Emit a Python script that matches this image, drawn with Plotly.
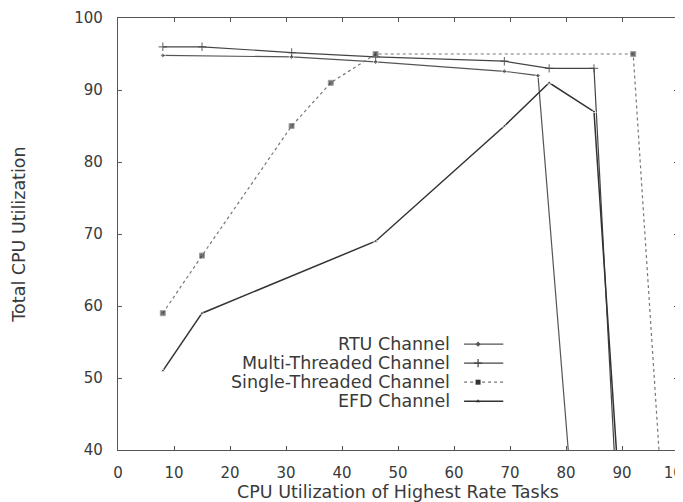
import plotly.graph_objects as go

# ---- data ----
rtu_x = [8, 31, 46, 69, 75, 80.4]
rtu_y = [94.8, 94.6, 93.9, 92.6, 92.0, 40]

multi_x = [8, 15, 31, 46, 69, 77, 85, 88.6]
multi_y = [96.0, 96.0, 95.2, 94.6, 94.0, 93.0, 93.0, 40]

single_x = [8, 15, 31, 38, 46, 92, 96.6]
single_y = [59, 67, 85, 91, 95, 95, 40]

efd_x = [8, 15, 46, 69, 77, 85, 89.0]
efd_y = [51, 59, 69, 85, 91, 87, 40]

series_names = ["RTU Channel", "Multi-Threaded Channel",
                "Single-Threaded Channel", "EFD Channel"]

x_ticks = list(range(0, 101, 10))
y_ticks = list(range(40, 101, 10))

FONT = "DejaVu Sans, Liberation Sans, Arial, sans-serif"
TXT = "#3a3a3a"

styles = [
    dict(line=dict(color="#555555", width=1.2, dash="solid"),
         marker=dict(symbol="diamond", size=4, color="#555555")),
    dict(line=dict(color="#444444", width=1.2, dash="solid"),
         marker=dict(symbol="cross-thin", size=6, color="#444444",
                     line=dict(width=1.2, color="#444444"))),
    dict(line=dict(color="#777777", width=1.2, dash="dot"),
         marker=dict(symbol="square", size=5, color="#333333")),
    dict(line=dict(color="#333333", width=1.5, dash="solid"),
         marker=dict(symbol="triangle-up", size=4, color="#333333")),
]

data = [(rtu_x, rtu_y), (multi_x, multi_y), (single_x, single_y), (efd_x, efd_y)]

fig = go.Figure()
for (xs, ys), st, nm in zip(data, styles, series_names):
    # last point is where the line leaves the plot; no marker there
    mk = dict(st["marker"])
    mk["size"] = [st["marker"]["size"]] * (len(xs) - 1) + [0]
    fig.add_trace(go.Scatter(x=xs, y=ys, mode="lines+markers", name=nm,
                             line=st["line"], marker=mk, showlegend=False))

# ---- gnuplot-style key: right-aligned text, sample line on the right ----
key_y = [0.245, 0.201, 0.157, 0.113]
text_x = 0.596
line_x0, line_x1, mark_x = 0.618, 0.688, 0.643
for nm, st, ky in zip(series_names, styles, key_y):
    fig.add_annotation(x=text_x, y=ky, xref="paper", yref="paper",
                       text=nm, showarrow=False, xanchor="right", yanchor="middle",
                       font=dict(family=FONT, size=17.5, color=TXT))
    fig.add_trace(go.Scatter(x=[line_x0, line_x1], y=[ky, ky], mode="lines",
                             line=st["line"], xaxis="x2", yaxis="y2",
                             showlegend=False, hoverinfo="skip"))
    fig.add_trace(go.Scatter(x=[mark_x], y=[ky], mode="markers",
                             marker=st["marker"], xaxis="x2", yaxis="y2",
                             showlegend=False, hoverinfo="skip"))

axis_common = dict(showgrid=False, zeroline=False, showline=True,
                   linecolor="#555555", linewidth=1.3, mirror="ticks",
                   ticks="inside", ticklen=4, tickcolor="#555555",
                   ticklabeloverflow="allow", automargin=False,
                   tickfont=dict(family=FONT, size=15, color=TXT))

# page body has an 8px margin, so the figure is sized/offset to compensate
fig.update_layout(
    width=675, height=494,
    margin=dict(l=110, r=5, t=10, b=52, autoexpand=False),
    paper_bgcolor="white", plot_bgcolor="white",
    font=dict(family=FONT, color=TXT),
    xaxis=dict(range=[0, 100], tickvals=x_ticks, ticklabelstandoff=9,
               title=dict(text="CPU Utilization of Highest Rate Tasks",
                          font=dict(family=FONT, size=17.5, color=TXT), standoff=0),
               **axis_common),
    yaxis=dict(range=[40, 100], tickvals=y_ticks, ticklabelstandoff=11,
               title=dict(text="Total CPU Utilization",
                          font=dict(family=FONT, size=17.5, color=TXT), standoff=44),
               **axis_common),
    xaxis2=dict(range=[0, 1], overlaying="x", visible=False, fixedrange=True),
    yaxis2=dict(range=[0, 1], overlaying="y", visible=False, fixedrange=True),
    showlegend=False,
)

fig.write_html("out.html")
